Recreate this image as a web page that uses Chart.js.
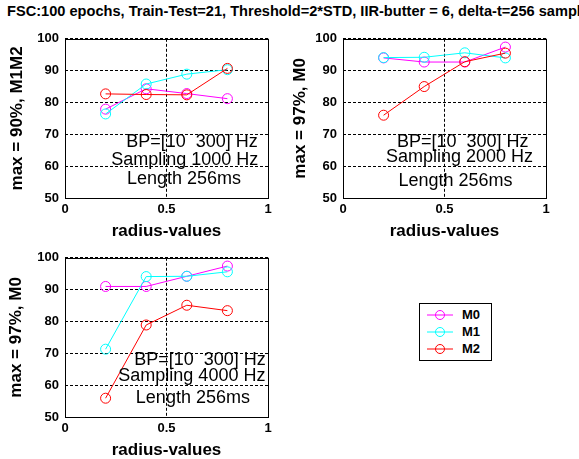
<!DOCTYPE html>
<html>
<head>
<meta charset="utf-8">
<script src="https://cdn.jsdelivr.net/npm/chart.js@4/dist/chart.umd.min.js"></script>
<style>
  html, body { margin:0; padding:0; background:#fff; width:579px; height:459px; overflow:hidden; position:relative; font-family:"Liberation Sans", Arial, sans-serif; }
  #title { position:absolute; left:7px; top:3px; font-weight:bold; font-size:14.6px; white-space:nowrap; color:#000; }
  .box { position:absolute; width:280px; height:220px; }
  #legend { position:absolute; left:419px; top:303px; width:71px; height:56px; border:1px solid #000; background:#fff; }
  .lrow { position:absolute; left:0; height:16px; width:71px; }
  .lrow svg { position:absolute; left:7px; top:3px; }
  .lrow span { position:absolute; left:42px; top:0; font-weight:bold; font-size:13px; line-height:16px; }
</style>
</head>
<body>
<div id="title">FSC:100 epochs, Train-Test=21, Threshold=2*STD, IIR-butter = 6, delta-t=256 samples</div>
<div class="box" style="left:0;top:25px"><canvas id="c1" width="280" height="220"></canvas></div>
<div class="box" style="left:278px;top:25px"><canvas id="c2" width="280" height="220"></canvas></div>
<div class="box" style="left:0;top:244px"><canvas id="c3" width="280" height="220"></canvas></div>
<div id="legend"></div>
<script>
// ---- data ----
const radius = [0.2, 0.4, 0.6, 0.8];
const seriesNames = ["M0", "M1", "M2"];
const seriesColors = ["#ff00ff", "#00ffff", "#ff0000"];

const p1_M0 = [77.9, 84.3, 82.8, 81.2];
const p1_M1 = [76.4, 85.8, 88.9, 90.3];
const p1_M2 = [82.7, 82.5, 82.4, 90.7];

const p2_M0 = [94.0, 92.7, 92.7, 97.4];
const p2_M1 = [94.1, 94.2, 95.6, 94.0];
const p2_M2 = [76.0, 85.0, 92.8, 95.5];

const p3_M0 = [91.0, 91.0, 94.2, 97.4];
const p3_M1 = [71.3, 94.1, 94.2, 95.6];
const p3_M2 = [55.9, 78.9, 85.1, 83.4];

const yTicks = [50, 60, 70, 80, 90, 100];
const xTicks = [0, 0.5, 1];
const xTickLabels = ["0", "0.5", "1"];

const yLabels = ["max = 90%, M1M2", "max = 97%, M0", "max = 97%, M0"];
const xLabel = "radius-values";
const notes1 = ["BP=[10  300] Hz", "Sampling 1000 Hz", "Length 256ms"];
const notes2 = ["BP=[10  300] Hz", "Sampling 2000 Hz", "Length 256ms"];
const notes3 = ["BP=[10  300] Hz", "Sampling 4000 Hz", "Length 256ms"];

// ---- helpers ----
const FONT = '"Liberation Sans", Arial, sans-serif';

const boxPlugin = {
  id: 'boxPlugin',
  afterDraw(chart) {
    const a = chart.chartArea, ctx = chart.ctx;
    ctx.save();
    ctx.strokeStyle = '#000';
    ctx.lineWidth = 1;
    ctx.setLineDash([]);
    ctx.strokeRect(Math.round(a.left) + 0.5, Math.round(a.top) + 0.5, Math.round(a.right - a.left), Math.round(a.bottom - a.top));
    ctx.restore();
  }
};

const notePlugin = {
  id: 'notePlugin',
  afterDatasetsDraw(chart, args, opts) {
    const ctx = chart.ctx;
    const xs = chart.scales.x, ys = chart.scales.y;
    ctx.save();
    ctx.fillStyle = '#000';
    ctx.font = '18px ' + FONT;
    ctx.textAlign = 'center';
    ctx.textBaseline = 'middle';
    opts.items.forEach(it => {
      ctx.fillText(it.text, xs.getPixelForValue(it.x), ys.getPixelForValue(it.y));
    });
    ctx.restore();
  }
};

function makeChart(id, series, yLabel, notes, notePos, yTitlePad) {
  const datasets = series.map((vals, i) => ({
    label: seriesNames[i],
    data: radius.map((r, k) => ({ x: r, y: vals[k] })),
    borderColor: seriesColors[i],
    backgroundColor: 'rgba(0,0,0,0)',
    borderWidth: 1,
    pointRadius: 5,
    pointBorderWidth: 1,
    pointBackgroundColor: 'rgba(0,0,0,0)',
    pointBorderColor: seriesColors[i],
    showLine: true,
    tension: 0,
    order: 2 - i
  }));
  return new Chart(document.getElementById(id), {
    type: 'scatter',
    data: { datasets },
    options: {
      responsive: false,
      animation: false,
      events: [],
      layout: { padding: { top: 13, right: 12, left: 0, bottom: 0 } },
      plugins: {
        legend: { display: false },
        tooltip: { enabled: false },
        notePlugin: { items: notes.map((t, i) => ({ text: t, x: notePos[i][0], y: notePos[i][1] })) }
      },
      scales: {
        x: {
          type: 'linear', min: xTicks[0], max: xTicks[xTicks.length - 1],
          afterBuildTicks: s => { s.ticks = xTicks.map(v => ({ value: v })); },
          afterFit: s => { s.height = 47; },
          border: { display: false, dash: [3, 2] },
          grid: { color: '#000', lineWidth: 1, drawTicks: false },
          ticks: { color: '#000', padding: 4, font: { family: FONT, size: 13, weight: 'bold' }, maxRotation: 0,
                   callback: (v) => xTickLabels[xTicks.indexOf(v)] },
          title: { display: true, text: xLabel, color: '#000', font: { family: FONT, size: 17, weight: 'bold' }, padding: { top: 0, bottom: 3 } }
        },
        y: {
          type: 'linear', min: yTicks[0], max: yTicks[yTicks.length - 1],
          afterBuildTicks: s => { s.ticks = yTicks.map(v => ({ value: v })); },
          afterFit: s => { s.width = 65; },
          border: { display: false, dash: [3, 2] },
          grid: { color: '#000', lineWidth: 1, drawTicks: false },
          ticks: { color: '#000', padding: 6, font: { family: FONT, size: 13, weight: 'bold' } },
          title: { display: true, text: yLabel, color: '#000', font: { family: FONT, size: 17, weight: 'bold' }, padding: { top: yTitlePad, bottom: 0 } }
        }
      }
    },
    plugins: [boxPlugin, notePlugin]
  });
}

makeChart('c1', [p1_M0, p1_M1, p1_M2], yLabels[0], notes1, [[0.626, 67.5], [0.59, 61.9], [0.586, 56]], 7);
makeChart('c2', [p2_M0, p2_M1, p2_M2], yLabels[1], notes2, [[0.59, 67.6], [0.574, 62.8], [0.554, 55.4]], 12);
makeChart('c3', [p3_M0, p3_M1, p3_M2], yLabels[2], notes3, [[0.665, 67.8], [0.625, 62.8], [0.63, 56]], 6);

// ---- legend ----
const leg = document.getElementById('legend');
seriesNames.forEach((n, i) => {
  const row = document.createElement('div');
  row.className = 'lrow';
  row.style.top = (3 + i * 17) + 'px';
  row.innerHTML = '<svg width="27" height="10"><line x1="0" y1="5" x2="26" y2="5" stroke="' + seriesColors[i] + '" stroke-width="1"/><circle cx="13" cy="5" r="4.5" fill="none" stroke="' + seriesColors[i] + '" stroke-width="1"/></svg><span>' + n + '</span>';
  leg.appendChild(row);
});
</script>
</body>
</html>
